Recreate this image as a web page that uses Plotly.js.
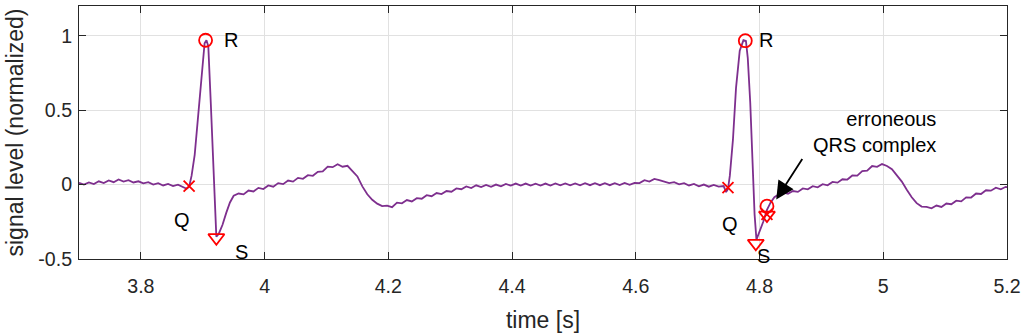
<!DOCTYPE html>
<html>
<head>
<meta charset="utf-8">
<script src="https://cdn.plot.ly/plotly-3.0.1.min.js"></script>
<style>
  body { margin: 0; background: #fff; }
  #chart { width: 1024px; height: 335px; }
</style>
</head>
<body>
<div id="chart"></div>
<script>
// ECG trace (time in s, level normalized)
const time = [
  3.700, 3.708, 3.716, 3.724, 3.732, 3.740, 3.748, 3.756, 3.764, 3.772,
  3.780, 3.788, 3.796, 3.804, 3.812, 3.820, 3.828, 3.836, 3.844, 3.852,
  3.860, 3.868, 3.874, 3.878, 3.882, 3.887, 3.892, 3.898, 3.903, 3.906,
  3.909, 3.913, 3.917, 3.920, 3.922, 3.926, 3.932, 3.938, 3.944, 3.950,
  3.958, 3.966, 3.974, 3.982, 3.990, 3.998, 4.006, 4.014, 4.022, 4.030,
  4.038, 4.046, 4.054, 4.062, 4.070, 4.078, 4.086, 4.094, 4.102, 4.110,
  4.118, 4.126, 4.134, 4.142, 4.150, 4.158, 4.166, 4.174, 4.182, 4.190,
  4.198, 4.206, 4.214, 4.222, 4.230, 4.238, 4.246, 4.254, 4.262, 4.270,
  4.278, 4.286, 4.294, 4.302, 4.310, 4.318, 4.326, 4.334, 4.342, 4.350,
  4.358, 4.366, 4.374, 4.382, 4.390, 4.398, 4.406, 4.414, 4.422, 4.430,
  4.438, 4.446, 4.454, 4.462, 4.470, 4.478, 4.486, 4.494, 4.502, 4.510,
  4.518, 4.526, 4.534, 4.542, 4.550, 4.558, 4.566, 4.574, 4.582, 4.590,
  4.598, 4.606, 4.614, 4.622, 4.630, 4.638, 4.646, 4.654, 4.662, 4.670,
  4.678, 4.686, 4.694, 4.702, 4.710, 4.718, 4.726, 4.734, 4.742, 4.746,
  4.749, 4.752, 4.757, 4.762, 4.768, 4.774, 4.778, 4.781, 4.785, 4.789,
  4.792, 4.795, 4.800, 4.806, 4.812, 4.818, 4.824, 4.830, 4.838, 4.846,
  4.854, 4.862, 4.870, 4.878, 4.886, 4.894, 4.902, 4.910, 4.918, 4.926,
  4.934, 4.942, 4.950, 4.958, 4.966, 4.974, 4.982, 4.990, 4.998, 5.006,
  5.014, 5.022, 5.030, 5.038, 5.046, 5.054, 5.062, 5.070, 5.078, 5.086,
  5.094, 5.102, 5.110, 5.118, 5.126, 5.134, 5.142, 5.150, 5.158, 5.166,
  5.174, 5.182, 5.190, 5.198, 5.204
];
const level = [
  0.012, 0.000, 0.014, 0.004, 0.022, 0.010, 0.028, 0.016, 0.034, 0.020,
  0.030, 0.014, 0.022, 0.008, 0.016, 0.000, 0.010, -0.006, 0.004, -0.010,
  0.000, -0.014, -0.028, -0.015, 0.060, 0.200, 0.450, 0.760, 0.950, 0.970,
  0.930, 0.550, 0.120, -0.220, -0.350, -0.330, -0.270, -0.190, -0.120, -0.075,
  -0.060, -0.066, -0.040, -0.046, -0.022, -0.030, -0.006, -0.014, 0.010, 0.003,
  0.027, 0.020, 0.045, 0.039, 0.063, 0.059, 0.086, 0.088, 0.121, 0.117,
  0.137, 0.120, 0.126, 0.090, 0.055, -0.012, -0.065, -0.102, -0.128, -0.145,
  -0.142, -0.152, -0.121, -0.126, -0.104, -0.113, -0.091, -0.095, -0.071, -0.078,
  -0.057, -0.064, -0.043, -0.048, -0.026, -0.031, -0.012, -0.023, -0.005, -0.017,
  -0.002, -0.015, 0.000, -0.012, 0.004, -0.007, 0.007, -0.006, 0.007, -0.007,
  0.006, -0.006, 0.007, -0.006, 0.008, -0.005, 0.008, -0.005, 0.008, -0.005,
  0.009, -0.004, 0.009, -0.004, 0.009, -0.004, 0.010, -0.003, 0.011, -0.002,
  0.012, 0.010, 0.030, 0.020, 0.038, 0.030, 0.022, 0.010, 0.016, 0.002,
  0.010, -0.006, 0.004, -0.012, 0.000, -0.014, -0.002, -0.014, -0.010, -0.050,
  -0.030, 0.060, 0.300, 0.650, 0.900, 0.970, 0.965, 0.850, 0.550, 0.150,
  -0.200, -0.370, -0.320, -0.250, -0.170, -0.120, -0.085, -0.068, -0.052, -0.061,
  -0.043, -0.049, -0.026, -0.032, -0.011, -0.018, 0.003, -0.005, 0.018, 0.013,
  0.036, 0.034, 0.061, 0.060, 0.090, 0.093, 0.125, 0.119, 0.138, 0.125,
  0.103, 0.065, 0.020, -0.035, -0.085, -0.125, -0.148, -0.150, -0.159, -0.141,
  -0.150, -0.127, -0.132, -0.108, -0.113, -0.086, -0.087, -0.060, -0.063, -0.038,
  -0.041, -0.021, -0.032, -0.015, -0.020
];

// detected points: Q, R, S (the third of each is the erroneous complex)
const qTime = [3.878, 4.749, 4.812];
const qLevel = [-0.010, -0.020, -0.200];
const rTime = [3.9046, 4.777, 4.812];
const rLevel = [0.970, 0.967, -0.145];
const sTime = [3.922, 4.794, 4.812];
const sLevel = [-0.357, -0.395, -0.205];

// letter labels next to the points
const labelText = ['R', 'Q', 'S', 'R', 'Q', 'S'];
const labelTime = [3.945, 3.867, 3.963, 4.811, 4.752, 4.806];
const labelLevel = [0.97, -0.235, -0.453, 0.97, -0.268, -0.48];

const xTicks = [3.8, 4, 4.2, 4.4, 4.6, 4.8, 5, 5.2];
const xTickText = ['3.8', '4', '4.2', '4.4', '4.6', '4.8', '5', '5.2'];
const yTicks = [-0.5, 0, 0.5, 1];
const yTickText = ['-0.5', '0', '0.5', '1'];

const font = 'Liberation Sans, Arial, sans-serif';
const axisColor = '#262626';
const red = '#ff0000';

const traces = [
  {
    type: 'scatter', mode: 'lines', x: time, y: level,
    line: { color: '#7e2f8e', width: 1.8 },
    hoverinfo: 'skip'
  },
  {
    type: 'scatter', mode: 'markers', x: qTime, y: qLevel,
    marker: { symbol: 'x-thin-open', size: 11, color: red, line: { color: red, width: 1.8 } }
  },
  {
    type: 'scatter', mode: 'markers', x: rTime, y: rLevel,
    marker: { symbol: 'circle-open', size: 13, color: red, line: { color: red, width: 1.8 } }
  },
  {
    type: 'scatter', mode: 'markers', x: sTime, y: sLevel,
    marker: { symbol: 'triangle-down-open', size: 14, color: red, line: { color: red, width: 1.8 } }
  }
];

const annotations = labelText.map((t, i) => ({
  x: labelTime[i], y: labelLevel[i], text: t, showarrow: false,
  font: { family: font, size: 20, color: '#000' }
}));

annotations.push({
  x: 5.089, y: 0.352, xanchor: 'right', yanchor: 'middle', align: 'right',
  text: 'erroneous<br>QRS complex', showarrow: false,
  font: { family: font, size: 20, color: '#000' }
});
annotations.push({
  x: 4.827, y: -0.10, text: '', showarrow: true,
  ax: 27, ay: -42, arrowhead: 2, arrowsize: 2, arrowwidth: 1.8,
  arrowcolor: '#000', standoff: 0
});

const axisBase = {
  showline: true, linecolor: axisColor, linewidth: 1, mirror: 'ticks',
  ticks: 'inside', ticklen: 7, tickcolor: axisColor, tickwidth: 1,
  showgrid: true, gridcolor: '#e1e1e1', gridwidth: 1,
  zeroline: false,
  tickfont: { family: font, size: 19.6, color: axisColor }
};

const layout = {
  width: 1024, height: 335,
  margin: { l: 79, r: 17, t: 6, b: 76 },
  paper_bgcolor: '#fff', plot_bgcolor: '#fff',
  showlegend: false,
  xaxis: Object.assign({}, axisBase, {
    range: [3.7, 5.2], tickvals: xTicks, ticktext: xTickText,
    ticklabelstandoff: 9,
    title: { text: 'time [s]', standoff: 16,
      font: { family: font, size: 23, color: axisColor } }
  }),
  yaxis: Object.assign({}, axisBase, {
    range: [-0.5, 1.2], tickvals: yTicks, ticktext: yTickText,
    ticklabelstandoff: 2,
    title: { text: 'signal level (normalized)', standoff: 8,
      font: { family: font, size: 23, color: axisColor } }
  }),
  annotations: annotations
};

Plotly.newPlot('chart', traces, layout, { displayModeBar: false, staticPlot: true });
</script>
</body>
</html>
